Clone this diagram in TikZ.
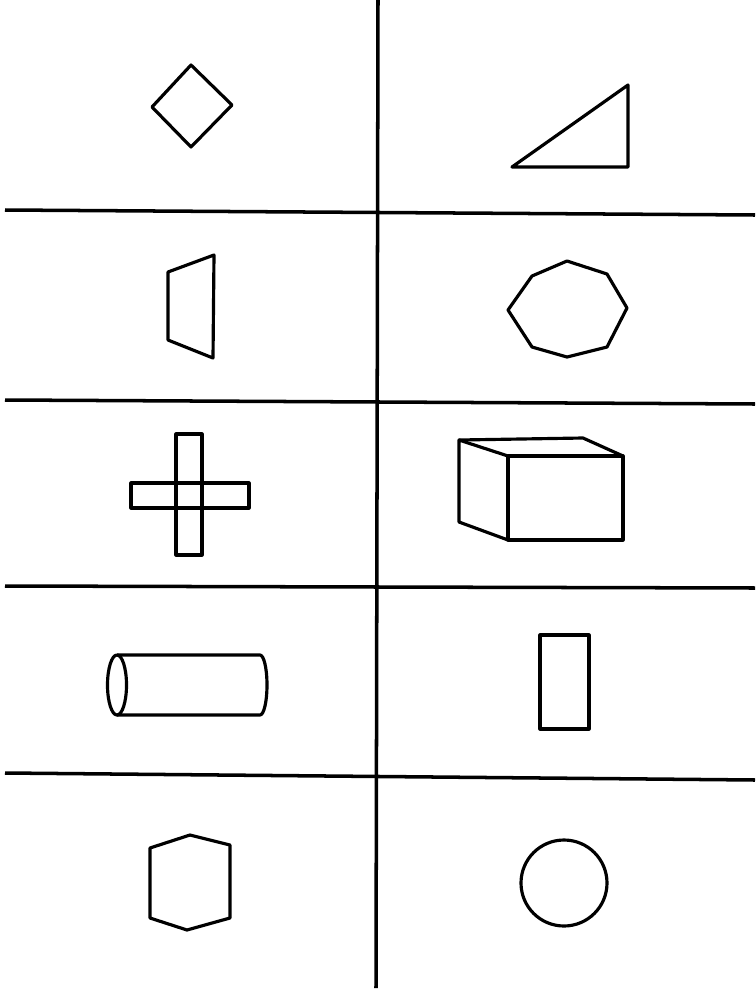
\documentclass[tikz,border=0pt]{standalone}
\usepackage{tikz}

\begin{document}
\begin{tikzpicture}[x=0.02cm,y=-0.02cm,
		rule/.style={line width=2pt},
		figure/.style={line width=1.8pt,line join=round}]
		\useasboundingbox (0,0) rectangle (755,991);
		% dividing lines
		\draw[rule] (378,0) -- (376,988);
		\draw[rule] (5,210) -- (755,215);
		\draw[rule] (5,400) -- (755,404);
		\draw[rule] (5,586) -- (755,588);
		\draw[rule] (5,773) -- (755,780);
		% row 1
		\draw[figure] (191,65) -- (232,105) -- (191,147) -- (152,107) -- cycle;
		\draw[figure] (512,167) -- (628,85) -- (628,167) -- cycle;
		% row 2
		\draw[figure] (168,272) -- (214,255) -- (213,358) -- (168,340) -- cycle;
		\draw[figure] (567,261) -- (607,274) -- (627,308) -- (607,347) -- (567,357)
			-- (532,347) -- (508,310) -- (532,276) -- cycle;
		% row 3
		\draw[figure] (176,434) rectangle (202,555);
		\draw[figure] (131,483) rectangle (249,508);
		\draw[figure] (508,456) rectangle (623,540);
		\draw[figure] (508,456) -- (459,440) -- (459,522) -- (508,540);
		\draw[figure] (459,440) -- (583,438) -- (623,456);
		% row 4
		\draw[figure] (117,685) ellipse [x radius=9.5,y radius=30];
		\draw[figure] (117,655) -- (260,655) arc[start angle=-90,end angle=90,x radius=7,y radius=30] -- (117,715);
		\draw[figure] (540,635) rectangle (589,729);
		% row 5
		\draw[figure] (190,835) -- (230,845) -- (230,918) -- (187,930) -- (150,918) -- (150,848) -- cycle;
		\draw[figure] (564,883) circle [radius=43];
	\end{tikzpicture}
\end{document}
